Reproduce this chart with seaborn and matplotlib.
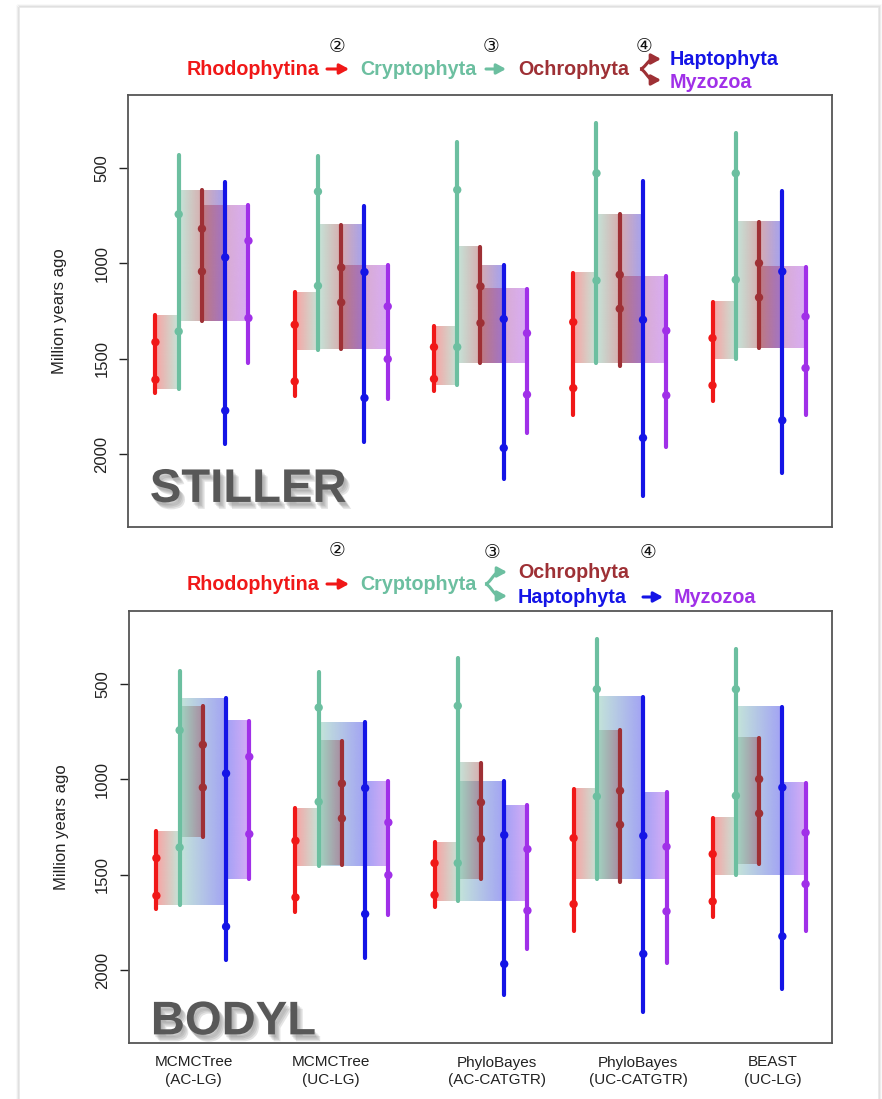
import numpy as np
import pandas as pd
import matplotlib
matplotlib.use("Agg")
import matplotlib.pyplot as plt
import matplotlib.patheffects as pe
from matplotlib.patches import FancyArrowPatch, Rectangle
import seaborn as sns

# ---------------- data ----------------
methods = ["MCMCTree\n(AC-LG)", "MCMCTree\n(UC-LG)", "PhyloBayes\n(AC-CATGTR)",
           "PhyloBayes\n(UC-CATGTR)", "BEAST\n(UC-LG)"]
lineages = ["Rhodophytina", "Cryptophyta", "Ochrophyta", "Haptophyta", "Myzozoa"]

# youngest / oldest bound of each lineage age interval (Myr), per method
rho_lo = [1273, 1153, 1331, 1051, 1203]
rho_hi = [1680, 1697, 1671, 1797, 1720]
cry_lo = [435, 436, 366, 263, 318]
cry_hi = [1657, 1456, 1636, 1523, 1502]
och_lo = [615, 798, 912, 743, 781]
och_hi = [1301, 1449, 1523, 1540, 1444]
hap_lo = [575, 702, 1011, 568, 619]
hap_hi = [1945, 1938, 2130, 2221, 2099]
myz_lo = [694, 1011, 1134, 1069, 1017]
myz_hi = [1523, 1709, 1889, 1962, 1793]

# two point estimates on each interval
rho_p1 = [1413, 1322, 1439, 1308, 1392]
rho_p2 = [1610, 1619, 1606, 1654, 1640]
cry_p1 = [743, 624, 615, 528, 528]
cry_p2 = [1357, 1118, 1439, 1090, 1086]
och_p1 = [819, 1022, 1121, 1060, 999]
och_p2 = [1043, 1205, 1313, 1238, 1179]
hap_p1 = [969, 1046, 1292, 1296, 1043]
hap_p2 = [1772, 1706, 1968, 1915, 1823]
myz_p1 = [882, 1226, 1366, 1353, 1279]
myz_p2 = [1287, 1502, 1688, 1692, 1549]

# endosymbiosis event windows: intersection of the listed lineage intervals,
# gradient drawn between the last two lineages of each chain
stiller_events = [["Rhodophytina", "Cryptophyta"],
                  ["Cryptophyta", "Ochrophyta"],
                  ["Cryptophyta", "Ochrophyta", "Haptophyta"],
                  ["Cryptophyta", "Ochrophyta", "Myzozoa"]]
bodyl_events = [["Rhodophytina", "Cryptophyta"],
                ["Cryptophyta", "Haptophyta"],
                ["Cryptophyta", "Ochrophyta"],
                ["Cryptophyta", "Haptophyta", "Myzozoa"]]

colors = {"Rhodophytina": "#F01818", "Cryptophyta": "#6CBFA0",
          "Ochrophyta": "#9E3035", "Haptophyta": "#1414E6", "Myzozoa": "#A030E8"}

lo = dict(zip(lineages, [rho_lo, cry_lo, och_lo, hap_lo, myz_lo]))
hi = dict(zip(lineages, [rho_hi, cry_hi, och_hi, hap_hi, myz_hi]))
p1 = dict(zip(lineages, [rho_p1, cry_p1, och_p1, hap_p1, myz_p1]))
p2 = dict(zip(lineages, [rho_p2, cry_p2, och_p2, hap_p2, myz_p2]))

# ---------------- layout ----------------
step = 0.167                     # spacing of lineages within a method group
offs = {l: (k - 2) * step for k, l in enumerate(lineages)}
label_shift = [-0.065, -0.08, 0.115, 0.13, 0.10]

rows_l, rows_p = [], []
for g in range(len(methods)):
    for l in lineages:
        x = g + offs[l]
        u = f"{g}-{l}"
        rows_l += [dict(x=x, age=lo[l][g], lineage=l, unit=u),
                   dict(x=x, age=hi[l][g], lineage=l, unit=u)]
        rows_p += [dict(x=x, age=p1[l][g], lineage=l),
                   dict(x=x, age=p2[l][g], lineage=l)]
df_lines = pd.DataFrame(rows_l)
df_pts = pd.DataFrame(rows_p)

sns.set_theme(style="white")
plt.rcParams["font.family"] = ["Liberation Sans", "DejaVu Sans"]

W, H = 882, 1099
fig = plt.figure(figsize=(W / 100, H / 100), dpi=100)
fig.patch.set_facecolor("white")

def fx(x):
    return x / W

def fy(y):
    return 1 - y / H

ax_top = fig.add_axes([fx(128), fy(527), fx(832) - fx(128), fy(95) - fy(527)])
ax_bot = fig.add_axes([fx(129), fy(1043), fx(832) - fx(129), fy(611) - fy(1043)])

def grad_rect(ax, la, lb, x0, x1, top, bottom, alpha=0.4):
    ca = np.array(matplotlib.colors.to_rgb(colors[la]))
    cb = np.array(matplotlib.colors.to_rgb(colors[lb]))
    t = np.linspace(0, 1, 128)[:, None]
    rgb = ca * (1 - t) + cb * t
    img = np.concatenate([rgb, np.full((128, 1), alpha)], axis=1)[None, :, :]
    ax.imshow(img, extent=(x0, x1, bottom, top), aspect="auto",
              interpolation="bilinear", zorder=1)

shadow = [pe.SimplePatchShadow(offset=(d, -d - 1), shadow_rgbFace="#888888",
                               alpha=0.22) for d in (1, 2, 3, 4)]

def draw_panel(ax, events, name):
    for g in range(len(methods)):
        for chain in events:
            top = max(lo[l][g] for l in chain)
            bottom = min(hi[l][g] for l in chain)
            la, lb = chain[-2], chain[-1]
            grad_rect(ax, la, lb, g + offs[la], g + offs[lb], top, bottom)
    sns.lineplot(data=df_lines, x="x", y="age", hue="lineage", units="unit",
                 estimator=None, sort=False, palette=colors, linewidth=3.0,
                 legend=False, ax=ax, zorder=3)
    sns.scatterplot(data=df_pts, x="x", y="age", hue="lineage", palette=colors,
                    s=36, edgecolor="none", legend=False, ax=ax, zorder=4)
    ax.set_xlim(-0.531, 4.524)
    ax.set_ylim(2382, 118)
    ax.set_yticks([500, 1000, 1500, 2000])
    ax.set_yticklabels(["500", "1000", "1500", "2000"], rotation=90, va="center")
    ax.tick_params(axis="y", left=True, length=6.5, width=1.0, pad=7,
                   labelsize=12, colors="#222222")
    ax.set_ylabel("Million years ago", fontsize=12, color="#222222")
    ax.yaxis.set_label_coords(-0.086, 0.5)
    ax.set_xlabel("")
    for s in ax.spines.values():
        s.set_color("#555555")
        s.set_linewidth(1.3)
    ax.text(0.031, 0.058 if name == "STILLER" else 0.02, name,
            transform=ax.transAxes, fontsize=34, fontweight="bold",
            color="#585858", ha="left", va="baseline", zorder=6,
            path_effects=shadow + [pe.Normal()])

draw_panel(ax_top, stiller_events, "STILLER")
draw_panel(ax_bot, bodyl_events, "BODYL")

ax_top.set_xticks([])
ax_bot.set_xticks([g + s for g, s in enumerate(label_shift)])
ax_bot.set_xticklabels(methods, fontsize=11, color="#222222", linespacing=1.3)
ax_bot.tick_params(axis="x", bottom=False, length=0, pad=9)

# ---------------- headers (pixel-space overlay) ----------------
ov = fig.add_axes([0, 0, 1, 1], zorder=5)
ov.set_xlim(0, W)
ov.set_ylim(H, 0)
ov.axis("off")
ov.patch.set_alpha(0)

hsize = 14.2
ASTYLE = "-|>,head_length=5.5,head_width=3.0"

def htext(x, y, s, lin):
    ov.text(x, y, s, color=colors[lin], fontsize=hsize, fontweight="bold",
            ha="left", va="baseline")

def arrow(x0, y0, x1, y1, lin):
    ov.add_patch(FancyArrowPatch((x0, y0), (x1, y1), arrowstyle=ASTYLE,
                                 color=colors[lin], lw=2.2, mutation_scale=1,
                                 shrinkA=0, shrinkB=0))

def fork(x0, y0, x1, ya, yb, lin):
    xe = x1 - 8
    for ye in (ya, yb):
        t = np.linspace(0, 1, 30)
        s = 3 * t ** 2 - 2 * t ** 3
        ov.plot(x0 + (xe - x0) * t, y0 + (ye - y0) * s, color=colors[lin],
                lw=2.2, solid_capstyle="butt")
        arrow(xe - 0.5, ye, x1, ye, lin)

def circ(x, y, s):
    ov.text(x, y, s, fontsize=13.5, family=["DejaVu Sans"], color="#111111",
            ha="center", va="center")

# top header (Stiller)
htext(187, 75, "Rhodophytina", "Rhodophytina")
arrow(327, 69, 349, 69, "Rhodophytina")
htext(360, 75, "Cryptophyta", "Cryptophyta")
arrow(486, 69, 506, 69, "Cryptophyta")
htext(518, 75, "Ochrophyta", "Ochrophyta")
fork(640, 69, 661, 59, 80, "Ochrophyta")
htext(670, 65, "Haptophyta", "Haptophyta")
htext(670, 88, "Myzozoa", "Myzozoa")
circ(337, 46, "\u2461")
circ(491, 46, "\u2462")
circ(644, 46, "\u2463")

# bottom header (Bodyl)
htext(187, 590, "Rhodophytina", "Rhodophytina")
arrow(327, 584, 349, 584, "Rhodophytina")
htext(360, 590, "Cryptophyta", "Cryptophyta")
fork(485, 584, 507, 572, 596, "Cryptophyta")
htext(518, 578, "Ochrophyta", "Ochrophyta")
htext(518, 603, "Haptophyta", "Haptophyta")
arrow(643, 597, 663, 597, "Haptophyta")
htext(674, 603, "Myzozoa", "Myzozoa")
circ(337, 551, "\u2461")
circ(492, 553, "\u2462")
circ(648, 553, "\u2463")

# page frame with soft shadow
for i, a in enumerate([0.18, 0.10, 0.05]):
    ov.add_patch(Rectangle((19 - i, 7 - i), 860 + 2 * i, 1200, fill=False,
                           edgecolor="#777777", alpha=a, lw=1.2, zorder=0))

fig.savefig("out.png", dpi=100, facecolor="white")
